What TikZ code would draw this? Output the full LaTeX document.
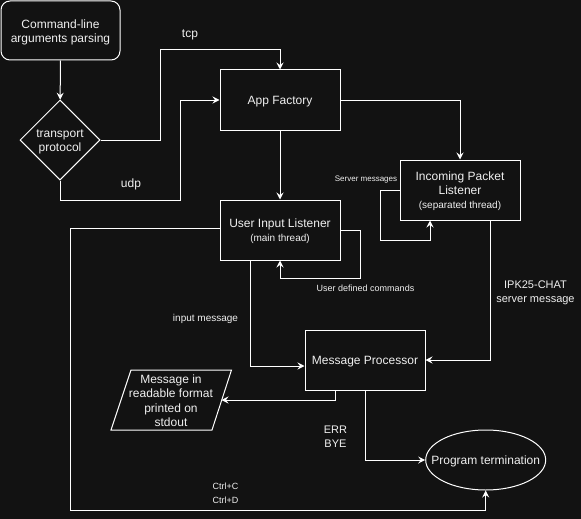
\documentclass[tikz,border=0pt]{standalone}
\usepackage{fontspec}
\setmainfont{Liberation Sans}
\usetikzlibrary{shapes.geometric,arrows.meta}
\definecolor{bg}{HTML}{121212}
\definecolor{fg}{HTML}{F0F0F0}
\newcommand\dn[1]{\raisebox{-2pt}[\height][\depth]{\begin{tabular}{@{}c@{}}#1\end{tabular}}}
\begin{document}
\begin{tikzpicture}[x=1pt,y=-1pt,line width=1pt,
  box/.style={draw=white,rectangle,minimum width=120pt,minimum height=60pt,inner sep=0pt,text=fg,font=\fontsize{12}{14}\selectfont},
  arr/.style={draw=white,-{Stealth[length=7pt,width=7pt,inset=2.5pt]}},
  lbl/.style={text=fg,inner sep=0pt},
  big/.style={font=\fontsize{12}{14}\selectfont},
  mid/.style={font=\fontsize{11}{14}\selectfont},
  sml/.style={font=\fontsize{10}{14}\selectfont},
  tiny/.style={font=\fontsize{9}{14}\selectfont},
  micro/.style={font=\fontsize{8}{14}\selectfont}]
\fill[bg] (0,0) rectangle (581,519);
\useasboundingbox (0,0) rectangle (581,519);
% nodes
\node[box,rounded corners=9pt,minimum width=119pt,minimum height=59pt] (cmd) at (60.5,30.5) {\dn{Command-line\\arguments parsing}};
\node[draw=white,diamond,aspect=1,minimum width=80pt,minimum height=80pt,inner sep=0pt,text=fg,big] (tp) at (60,140) {\dn{transport\\protocol}};
\node[box] (af) at (280,100) {\dn{App Factory}};
\node[box] (ipl) at (460,190) {\dn{Incoming Packet\\Listener\\{\fontsize{10}{14}\selectfont(separated thread)}}};
\node[box] (uil) at (280,230) {\dn{User Input Listener\\{\fontsize{10}{14}\selectfont(main thread)}}};
\node[box] (mp) at (365,360) {\dn{Message Processor}};
\node[draw=white,ellipse,minimum width=120pt,minimum height=60pt,inner sep=0pt,text=fg,big] (pt) at (485.7,460) {\makebox[0pt]{\dn{Program termination}}};
% parallelogram output
\draw[white] (131,370) -- (231.5,370) -- (212,430) -- (111,430) -- cycle;
\node[lbl,font=\fontsize{12}{14.5}\selectfont] (outtxt) at (171,400) {\dn{Message in\\readable format\\printed on\\stdout}};
\coordinate (out) at (221.5,400);
% connectors
\draw[arr] (cmd) -- (tp);
\draw[arr] (tp.east) -| (160,50) -| (af.north);
\draw[arr] (tp.south) |- (180,200) |- (af.west);
\draw[arr] (af) -- (uil);
\draw[arr] (af.east) -| (ipl.north);
\draw[arr] (ipl.west) -| (380,240) -| ([xshift=-30pt]ipl.south);
\draw[arr] (uil.east) -| (360.5,278) -| (uil.south);
\draw[arr] ([yshift=1.7pt]uil.west) -| (70,510) -| (pt.south);
\draw[arr] ([xshift=-30pt]uil.south) |- ([yshift=-6pt]mp.west);
\draw[arr] ([xshift=30pt]ipl.south) |- (mp.east);
\draw[arr] ([xshift=-30pt]mp.south) |- (out);
\draw[arr] (mp.south) |- (pt.west);
% labels
\node[lbl,big] (ltcp) at (190,33) {\dn{tcp}};
\node[lbl,big] (ludp) at (131,183) {\dn{udp}};
\node[lbl,micro] (lsrv) at (366,177) {\dn{Server messages}};
\node[lbl,tiny] (lusr) at (365.5,287) {\dn{User defined commands}};
\node[lbl,sml] (linp) at (205.5,317) {\dn{input message}};
\node[lbl,mid] (lipk) at (535.5,291) {\dn{IPK25-CHAT\\server message}};
\node[lbl,tiny] (lctrl) at (225.5,491.3) {\dn{Ctrl+C\\Ctrl+D}};
\node[lbl,mid] (lerr) at (335.5,435.7) {\dn{ERR\\BYE}};
\end{tikzpicture}
\end{document}
